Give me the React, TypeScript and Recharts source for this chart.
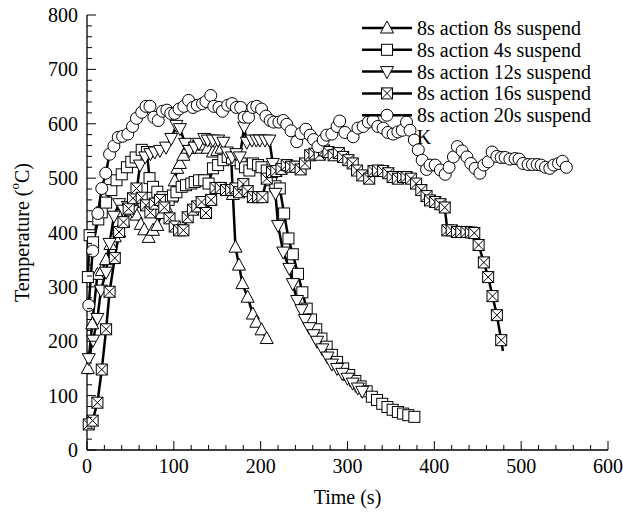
import { LineChart, Line, XAxis, YAxis, Legend, ReferenceDot } from "recharts";

const FONT = "'Liberation Serif', 'Times New Roman', serif";

// plot box in px (chart is 623 x 513)
const BOX = { left: 87, right: 608, top: 15, bottom: 450 };

const xMajor = [0, 100, 200, 300, 400, 500, 600];
const yMajor = [0, 100, 200, 300, 400, 500, 600, 700, 800];
const xTicks = Array.from({ length: 31 }, (_, i) => i * 20);
const yTicks = Array.from({ length: 41 }, (_, i) => i * 20);

// 8s action 8s suspend (triangle up)
const t8 = [1, 6, 12, 17, 22, 27, 32, 37, 42, 47, 53, 57, 62, 66, 71, 76, 81, 86, 91, 97, 101, 104, 107, 111, 116, 122, 127, 133, 139, 145, 150, 155, 160, 166, 168, 171, 175, 179, 185, 191, 195, 201, 207];
const temp8 = [150, 232, 323, 330, 350, 378, 392, 401, 420, 441, 455, 432, 415, 405, 391, 404, 413, 435, 447, 465, 495, 518, 527, 542, 555, 557, 555, 561, 555, 548, 551, 555, 542, 539, 470, 373, 340, 306, 281, 250, 235, 221, 205];

// 8s action 4s suspend (square)
const t4 = [1, 3, 7, 13, 17, 22, 28, 34, 40, 46, 51, 56, 63, 69, 72, 76, 81, 87, 94, 99, 103, 109, 114, 120, 124, 129, 135, 140, 145, 151, 157, 162, 167, 172, 177, 182, 187, 191, 197, 201, 207, 212, 217, 222, 227, 232, 237, 243, 248, 253, 258, 264, 270, 276, 282, 288, 295, 302, 309, 315, 322, 328, 334, 340, 346, 352, 358, 364, 370, 377];
const temp4 = [318, 395, 382, 424, 437, 455, 478, 496, 507, 520, 530, 538, 552, 548, 500, 484, 475, 465, 460, 468, 474, 484, 487, 490, 493, 496, 496, 490, 518, 524, 533, 539, 536, 533, 527, 520, 514, 527, 524, 520, 514, 496, 485, 481, 435, 389, 360, 324, 290, 260, 240, 222, 205, 190, 175, 162, 150, 138, 127, 117, 108, 98, 92, 85, 79, 74, 70, 67, 64, 61];

// 8s action 12s suspend (triangle down)
const t12 = [2, 7, 12, 16, 22, 26, 31, 37, 42, 47, 52, 56, 61, 67, 73, 78, 84, 91, 97, 103, 107, 113, 118, 124, 129, 135, 139, 145, 151, 157, 161, 167, 172, 176, 181, 184, 190, 195, 199, 205, 210, 214, 217, 220, 226, 233, 237, 242, 247, 251, 256, 261, 265, 271, 277, 282, 288, 294, 300, 306, 312, 317];
const temp12 = [168, 202, 242, 294, 327, 380, 430, 453, 441, 448, 440, 462, 524, 539, 545, 548, 551, 557, 573, 597, 591, 564, 551, 557, 564, 573, 570, 570, 570, 566, 548, 539, 545, 539, 594, 566, 570, 570, 570, 570, 570, 527, 472, 413, 364, 334, 306, 275, 258, 240, 225, 212, 200, 186, 171, 158, 150, 141, 132, 123, 114, 108];

// 8s action 16s suspend (crossed square)
const t16 = [2, 6.5, 12, 17, 22, 26, 32, 37, 42, 48, 53, 57, 63, 68, 73, 78, 84, 89, 95, 101, 106, 111, 116, 122, 127, 132, 137, 143, 148, 154, 160, 166, 171, 175, 180, 185, 191, 197, 202, 207, 213, 218, 224, 230, 235, 240, 246, 251, 257, 262, 268, 273, 278, 284, 290, 295, 301, 306, 311, 317, 325, 330, 335, 341, 347, 352, 358, 364, 368, 373, 379, 385, 391, 395, 401, 407, 412, 415, 420, 426, 431, 437, 442, 446, 451, 457, 462, 467, 472, 477, 479];
const temp16 = [47, 54, 87, 148, 222, 291, 353, 401, 419, 444, 463, 481, 464, 450, 437, 453, 460, 446, 426, 411, 404, 404, 428, 442, 448, 456, 436, 460, 482, 482, 478, 478, 481, 474, 489, 476, 465, 465, 465, 499, 511, 513, 517, 524, 521, 521, 516, 527, 542, 545, 543, 551, 548, 542, 546, 539, 533, 527, 514, 505, 499, 513, 514, 513, 509, 502, 499, 502, 502, 499, 490, 478, 467, 459, 456, 452, 446, 404, 404, 401, 401, 401, 400, 399, 377, 345, 318, 283, 248, 202, 182];

// 8s action 20s suspend (circle)
const t20 = [2, 6.5, 12.5, 17, 21.6, 26, 31, 36, 41, 47, 52.5, 57, 63, 68, 72.5, 77, 82, 87, 92, 96.5, 101, 106, 111.5, 117, 122, 127, 133, 137, 142.5, 146, 152, 156, 162, 167, 172, 177, 181, 186, 191, 195.5, 201, 206, 211, 215, 221, 226, 230, 235, 241.5, 246.5, 252, 257, 261, 266, 272, 276, 282, 288, 291, 297, 306.5, 312, 318, 324, 329.5, 335, 341, 346.5, 352.5, 358, 363, 368, 372, 377, 381.5, 386, 391, 395, 401, 407, 412.5, 417, 422, 426.5, 432, 437.5, 442, 447, 452.5, 457, 462, 466.5, 472, 477, 481.5, 487, 493, 497.5, 502, 508, 513, 518.5, 523, 528, 533, 537.5, 543, 547.5, 552];
const temp20 = [266, 366, 435, 481, 509, 544, 559, 575, 577, 581, 595, 610, 621, 632, 632, 612, 606, 623, 625, 619, 619, 627, 632, 643, 630, 634, 637, 641, 652, 632, 630, 623, 634, 637, 630, 630, 612, 612, 630, 632, 627, 614, 606, 603, 603, 606, 599, 587, 567, 582, 590, 579, 571, 558, 570, 579, 581, 595, 605, 584, 576, 592, 595, 603, 606, 595, 592, 584, 581, 585, 588, 603, 588, 570, 552, 533, 516, 524, 524, 515, 507, 520, 539, 558, 550, 539, 527, 518, 509, 524, 530, 548, 540, 538, 538, 535, 536, 535, 527, 525, 525, 525, 524, 520, 518, 524, 527, 531, 520];

const zip = (t: number[], v: number[]) => t.map((x, i) => ({ t: x, v: v[i] }));

const series = [
  { name: "8s action 8s suspend", shape: "triUp", data: zip(t8, temp8) },
  { name: "8s action 4s suspend", shape: "square", data: zip(t4, temp4) },
  { name: "8s action 12s suspend", shape: "triDown", data: zip(t12, temp12) },
  { name: "8s action 16s suspend", shape: "crossSquare", data: zip(t16, temp16), noLastDot: true },
  { name: "8s action 20s suspend", shape: "circle", data: zip(t20, temp20) },
];

function Marker({ shape, cx, cy }: { shape: string; cx: number; cy: number }) {
  const st = { fill: "#fff", stroke: "#000", strokeWidth: 1 };
  if (shape === "triUp")
    return <polygon points={`${cx},${cy - 7} ${cx - 6.5},${cy + 5} ${cx + 6.5},${cy + 5}`} {...st} />;
  if (shape === "triDown")
    return <polygon points={`${cx},${cy + 7} ${cx - 6.5},${cy - 5} ${cx + 6.5},${cy - 5}`} {...st} />;
  if (shape === "square") return <rect x={cx - 5.5} y={cy - 5.5} width={11} height={11} {...st} />;
  if (shape === "crossSquare")
    return (
      <g>
        <rect x={cx - 5.5} y={cy - 5.5} width={11} height={11} {...st} />
        <line x1={cx - 5.5} y1={cy - 5.5} x2={cx + 5.5} y2={cy + 5.5} stroke="#000" strokeWidth={1} />
        <line x1={cx + 5.5} y1={cy - 5.5} x2={cx - 5.5} y2={cy + 5.5} stroke="#000" strokeWidth={1} />
      </g>
    );
  return <circle cx={cx} cy={cy} r={6} {...st} />;
}

const tickLen = (v: number) => (v % 100 === 0 ? 9 : 5);

function XTickBottom({ x, payload }: any) {
  const v = payload.value;
  return (
    <g>
      <line x1={x} x2={x} y1={BOX.bottom} y2={BOX.bottom - tickLen(v)} stroke="#000" strokeWidth={1} />
      {xMajor.includes(v) && (
        <text x={x} y={BOX.bottom + 16} textAnchor="middle" dominantBaseline="central" fontSize={20} fontFamily={FONT} fill="#000">
          {v}
        </text>
      )}
    </g>
  );
}

function XTickTop({ x, payload }: any) {
  return <line x1={x} x2={x} y1={BOX.top} y2={BOX.top + tickLen(payload.value)} stroke="#000" strokeWidth={1} />;
}

function YTickLeft({ y, payload }: any) {
  const v = payload.value;
  return (
    <g>
      <line x1={BOX.left} x2={BOX.left + tickLen(v)} y1={y} y2={y} stroke="#000" strokeWidth={1} />
      {yMajor.includes(v) && (
        <text x={BOX.left - 9} y={y} textAnchor="end" dominantBaseline="central" fontSize={20} fontFamily={FONT} fill="#000">
          {v}
        </text>
      )}
    </g>
  );
}

function YTickRight({ y, payload }: any) {
  return <line x1={BOX.right} x2={BOX.right - tickLen(payload.value)} y1={y} y2={y} stroke="#000" strokeWidth={1} />;
}

function YTitle() {
  const cx = 22;
  const cy = (BOX.top + BOX.bottom) / 2;
  return (
    <text x={cx} y={cy} transform={`rotate(-90, ${cx}, ${cy})`} textAnchor="middle" dominantBaseline="central" fontSize={20} fontFamily={FONT} fill="#000">
      Temperature (<tspan fontSize={13} dy={-8}>o</tspan>
      <tspan dy={8}>C)</tspan>
    </text>
  );
}

function XTitle() {
  return (
    <text x={(BOX.left + BOX.right) / 2} y={497} textAnchor="middle" dominantBaseline="central" fontSize={20} fontFamily={FONT} fill="#000">
      Time (s)
    </text>
  );
}

function LegendBox() {
  const rowH = 21.8;
  return (
    <svg width={260} height={112} style={{ display: "block" }}>
      {series.map((s, i) => {
        const y = 11 + i * rowH;
        return (
          <g key={s.name}>
            <line x1={0} x2={50} y1={y} y2={y} stroke="#000" strokeWidth={2.5} />
            <Marker shape={s.shape} cx={25} cy={y} />
            <text x={55} y={y} dominantBaseline="central" fontSize={20} fontFamily={FONT} fill="#000">
              {s.name}
            </text>
          </g>
        );
      })}
    </svg>
  );
}

export default function App() {
  return (
    <div style={{ position: "absolute", left: 0, top: 0, width: 623, height: 513, background: "#fff" }}>
      <LineChart width={623} height={513} margin={{ top: 15, right: 15, bottom: 0, left: 0 }}>
        <XAxis
          dataKey="t"
          type="number"
          domain={[0, 600]}
          ticks={xTicks}
          interval={0}
          height={63}
          tickLine={false}
          axisLine={{ stroke: "#000", strokeWidth: 1.3 }}
          tick={(p: any) => <XTickBottom {...p} />}
          label={<XTitle />}
        />
        <XAxis
          xAxisId="top"
          orientation="top"
          dataKey="t"
          type="number"
          domain={[0, 600]}
          ticks={xTicks}
          interval={0}
          height={0}
          tickLine={false}
          axisLine={{ stroke: "#000", strokeWidth: 1.3 }}
          tick={(p: any) => <XTickTop {...p} />}
        />
        <YAxis
          type="number"
          domain={[0, 800]}
          ticks={yTicks}
          interval={0}
          width={87}
          tickLine={false}
          axisLine={{ stroke: "#000", strokeWidth: 1.3 }}
          tick={(p: any) => <YTickLeft {...p} />}
          label={<YTitle />}
        />
        <YAxis
          yAxisId="right"
          orientation="right"
          type="number"
          domain={[0, 800]}
          ticks={yTicks}
          interval={0}
          width={0}
          tickLine={false}
          axisLine={{ stroke: "#000", strokeWidth: 1.3 }}
          tick={(p: any) => <YTickRight {...p} />}
        />
        {series.map((s) => (
          <Line
            key={s.name}
            data={s.data}
            dataKey="v"
            name={s.name}
            type="linear"
            stroke="#000"
            strokeWidth={2.5}
            isAnimationActive={false}
            dot={(p: any) =>
              s.noLastDot && p.index === s.data.length - 1 ? (
                <g key={`${s.name}-${p.index}`} />
              ) : (
                <Marker key={`${s.name}-${p.index}`} shape={s.shape} cx={p.cx} cy={p.cy} />
              )
            }
          />
        ))}
        <ReferenceDot
          x={388}
          y={575}
          r={1}
          fill="none"
          stroke="none"
          label={{ value: "K", position: "center", fontSize: 20, fontFamily: FONT, fill: "#000" }}
        />
        <Legend
          layout="vertical"
          align="center"
          verticalAlign="middle"
          wrapperStyle={{ top: 17, left: 362, width: 260 }}
          content={() => <LegendBox />}
        />
      </LineChart>
    </div>
  );
}
